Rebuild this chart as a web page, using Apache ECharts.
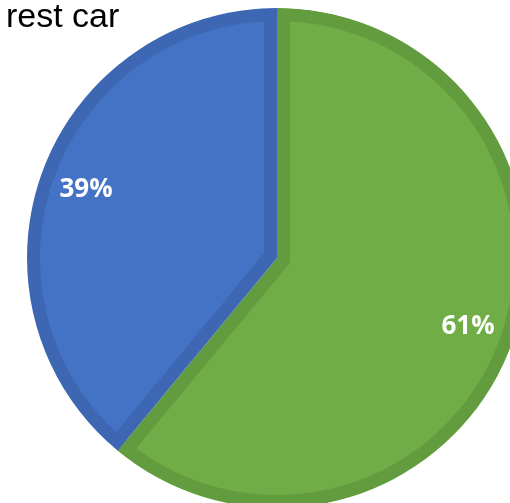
<!DOCTYPE html>
<html>
<head>
<meta charset="utf-8">
<script src="https://cdn.jsdelivr.net/npm/echarts@6/dist/echarts.min.js"></script>
<style>
html,body{margin:0;padding:0;background:#fff;}
#chart{width:510px;height:503px;}
</style>
</head>
<body>
<div id="chart"></div>
<script>
const categories = ['Other', 'Interest'];
const values = [61, 39];
const titleText = 'rest car';

const lightColors = ['#70AD47', '#4472C4'];
const darkColors = ['#639C3E', '#3E67B3'];

const C = [277, 258];
const R = 250;
const D = 13;
const START = 90;

const total = values.reduce((a, b) => a + b, 0);
// inset apex for each slice so the light fill sits D px inside every edge
const apexes = [];
let ang = START;
values.forEach(v => {
  const span = v / total * 360;
  const mid = (ang - span / 2) * Math.PI / 180;
  const off = D / Math.sin(span / 2 * Math.PI / 180);
  apexes.push([C[0] + off * Math.cos(mid), C[1] - off * Math.sin(mid)]);
  ang -= span;
});

const base = {
  type: 'pie', startAngle: START, clockwise: true, silent: true,
  label: { show: false }, labelLine: { show: false },
  emphasis: { disabled: true }, avoidLabelOverlap: false
};

const series = [];
// dark base
series.push(Object.assign({}, base, {
  center: C, radius: [0, R], z: 1,
  data: values.map((v, j) => ({ name: categories[j], value: v, itemStyle: { color: darkColors[j], borderWidth: 0 } }))
}));
// light inset fills
values.forEach((_, i) => {
  series.push(Object.assign({}, base, {
    center: apexes[i], radius: [0, R + 1], z: 2,
    data: values.map((v, j) => ({ name: categories[j], value: v,
      itemStyle: { color: j === i ? lightColors[j] : 'rgba(0,0,0,0)', borderWidth: 0 } }))
  }));
});
// dark outer band
series.push(Object.assign({}, base, {
  center: C, radius: [R - D, R], z: 3,
  data: values.map((v, j) => ({ name: categories[j], value: v, itemStyle: { color: darkColors[j], borderWidth: 0 } }))
}));
// white cover beyond the pie
series.push(Object.assign({}, base, {
  center: C, radius: [R, R + 20], z: 4,
  data: values.map((v, j) => ({ name: categories[j], value: v, itemStyle: { color: '#ffffff', borderWidth: 0 } }))
}));
// labels
series.push(Object.assign({}, base, {
  center: C, radius: [R - 100, R], z: 5,
  label: {
    show: true, position: 'inside', color: '#ffffff',
    fontFamily: 'Open Sans', fontWeight: 'bold', fontSize: 26,
    formatter: p => Math.round(p.percent) + '%'
  },
  data: values.map((v, j) => ({ name: categories[j], value: v, itemStyle: { color: 'rgba(0,0,0,0)', borderWidth: 0 } }))
}));

const chart = echarts.init(document.getElementById('chart'), null, { renderer: 'canvas' });
chart.setOption({
  animation: false,
  backgroundColor: '#ffffff',
  title: {
    text: titleText, left: 1, top: -4,
    textStyle: { fontFamily: 'Liberation Sans', fontSize: 34, fontWeight: 'normal', color: '#000000' }
  },
  series: series
});
</script>
</body>
</html>
